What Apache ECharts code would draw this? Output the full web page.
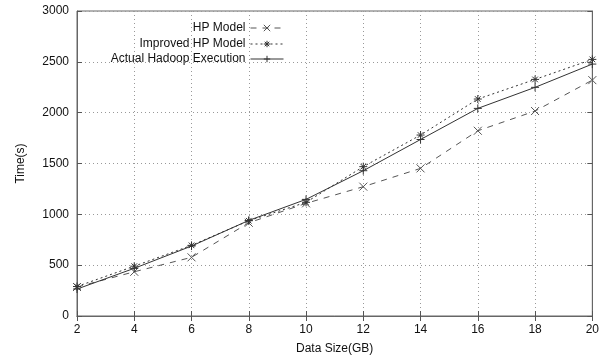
<!DOCTYPE html>
<html>
<head>
<meta charset="utf-8">
<script src="https://cdn.jsdelivr.net/npm/echarts@6/dist/echarts.min.js"></script>
<style>
  html, body { margin: 0; padding: 0; background: #fff; }
  #chart { width: 602px; height: 362px; }
</style>
</head>
<body>
<div id="chart"></div>
<script>
// data
const dataSizes = [2, 4, 6, 8, 10, 12, 14, 16, 18, 20]
const hpModel = [285, 435, 577, 917, 1108, 1272, 1452, 1822, 2016, 2320]
const improvedHp = [290, 490, 695, 937, 1118, 1469, 1780, 2134, 2327, 2524]
const actualHadoop = [265, 469, 688, 940, 1147, 1429, 1736, 2042, 2249, 2478]
const seriesNames = ['HP Model', 'Improved HP Model', 'Actual Hadoop Execution']

const FONT = 'Liberation Sans'
const symX = 'path://M0,0L10,10M10,0L0,10'
const symStar = 'path://M0,5L10,5M5,0L5,10M1.5,1.5L8.5,8.5M8.5,1.5L1.5,8.5'
const symPlus = 'path://M0,5L10,5M5,0L5,10'

const pairs = arr => dataSizes.map((x, i) => [x, arr[i]])

const chart = echarts.init(document.getElementById('chart'))

const gridLine = { show: true, lineStyle: { color: '#999', type: [1, 3], width: 1 } }
const tickIn = { show: true, inside: true, length: 5, lineStyle: { color: '#555' } }
const axisLine = { show: true, lineStyle: { color: '#666', width: 1 } }

function makeLine(name, data, symbol, lineType, color) {
  return {
    name: name,
    type: 'line',
    data: data,
    symbol: symbol,
    symbolSize: 8,
    showAllSymbol: true,
    animation: false,
    itemStyle: { color: color, borderColor: color, borderWidth: 1 },
    lineStyle: { color: color, width: 1, type: lineType },
    emphasis: { disabled: true }
  }
}

function legendRow(name, top) {
  return {
    data: [name],
    right: 313,
    top: top,
    align: 'right',
    itemWidth: 33,
    itemHeight: 8,
    itemGap: 0,
    itemStyle: { borderWidth: 1 },
    lineStyle: { width: 1 },
    textStyle: { fontFamily: FONT, fontSize: 12, color: '#111' }
  }
}

chart.setOption({
  backgroundColor: '#fff',
  animation: false,
  grid: { left: 77, right: 3, top: 11, bottom: 46, show: true, borderColor: '#666', borderWidth: 1 },
  legend: [legendRow(seriesNames[0], 17), legendRow(seriesNames[1], 33), legendRow(seriesNames[2], 48)],
  xAxis: [
    {
      type: 'value', min: 2, max: 20, interval: 2,
      name: 'Data Size(GB)', nameLocation: 'middle', nameGap: 27,
      nameTextStyle: { fontFamily: FONT, fontSize: 12, color: '#111' },
      axisLine: axisLine, axisTick: tickIn, splitLine: gridLine,
      axisLabel: { fontFamily: FONT, fontSize: 12, color: '#111', margin: 8 }
    },
    {
      type: 'value', position: 'top', min: 2, max: 20, interval: 2,
      axisLine: axisLine, axisTick: tickIn, splitLine: { show: false }, axisLabel: { show: false }
    }
  ],
  yAxis: [
    {
      type: 'value', min: 0, max: 3000, interval: 500,
      name: 'Time(s)', nameLocation: 'middle', nameGap: 50,
      nameTextStyle: { fontFamily: FONT, fontSize: 12, color: '#111' },
      axisLine: axisLine, axisTick: tickIn, splitLine: gridLine,
      axisLabel: { fontFamily: FONT, fontSize: 12, color: '#111', margin: 8, formatter: v => String(v) }
    },
    {
      type: 'value', position: 'right', min: 0, max: 3000, interval: 500,
      axisLine: axisLine, axisTick: tickIn, splitLine: { show: false }, axisLabel: { show: false }
    }
  ],
  series: [
    makeLine(seriesNames[0], pairs(hpModel), symX, [6, 6], '#555'),
    makeLine(seriesNames[1], pairs(improvedHp), symStar, [2, 3], '#333'),
    makeLine(seriesNames[2], pairs(actualHadoop), symPlus, 'solid', '#333')
  ]
})
</script>
</body>
</html>
